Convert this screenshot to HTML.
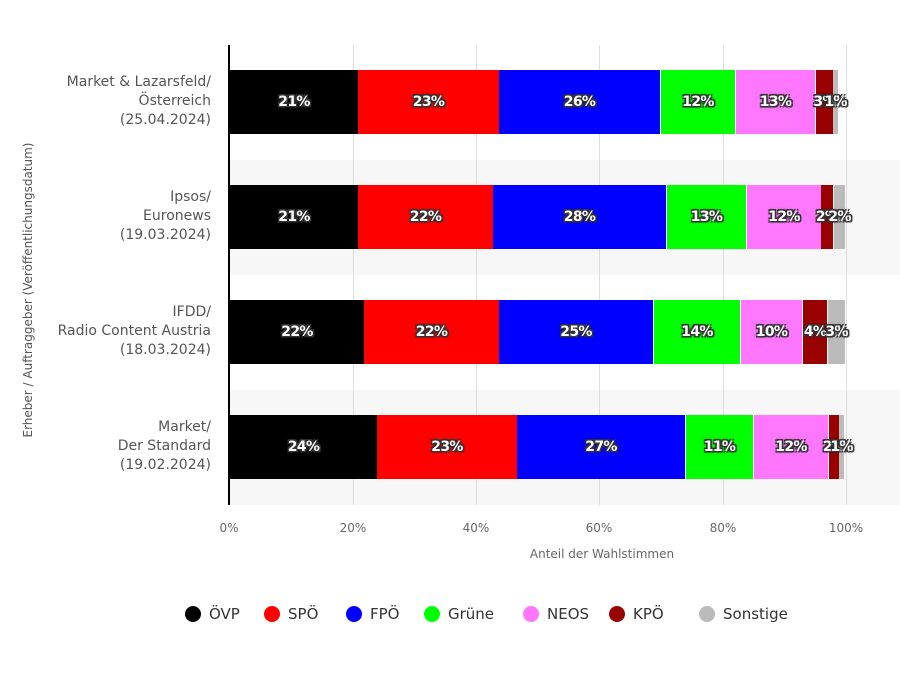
<!DOCTYPE html>
<html><head><meta charset="utf-8"><style>
body{margin:0;width:900px;height:675px;background:#fff;font-family:"DejaVu Sans","Liberation Sans",sans-serif;overflow:hidden;position:relative}
.a{position:absolute}
.band{position:absolute;left:229px;width:671px;height:115px;background:#f7f7f7}
.grid{position:absolute;top:45px;height:460px;width:1px;background:#ddd}
.seg{position:absolute;height:64px;display:flex;align-items:center;justify-content:center;color:#fff;font-weight:bold;font-size:14px;letter-spacing:-0.7px;white-space:nowrap;overflow:visible;text-shadow:-1.5px -1.5px 0 #333,1.5px -1.5px 0 #333,-1.5px 1.5px 0 #333,1.5px 1.5px 0 #333,0 0 3px #000}
.cat{position:absolute;right:689px;text-align:right;font-size:14px;line-height:19px;color:#555}
.tick{position:absolute;top:521px;font-size:12px;color:#666;width:60px;text-align:center}
.lg{position:absolute;top:605px;font-size:15px;color:#333;display:flex;align-items:center;font-weight:500}
.lg i{display:inline-block;width:16px;height:16px;border-radius:50%;margin-right:8px}
</style></head><body>
<div class="band" style="top:160px"></div>
<div class="band" style="top:390px"></div>
<div class="grid" style="left:353px"></div>
<div class="grid" style="left:476px"></div>
<div class="grid" style="left:599px"></div>
<div class="grid" style="left:723px"></div>
<div class="grid" style="left:846px"></div>
<div class="a" style="left:228px;top:45px;width:2px;height:460px;background:#000"></div>

<div class="cat" style="top:73px">Market &amp; Lazarsfeld/<br>Österreich<br>(25.04.2024)</div>
<div class="cat" style="top:188px">Ipsos/<br>Euronews<br>(19.03.2024)</div>
<div class="cat" style="top:303px">IFDD/<br>Radio Content Austria<br>(18.03.2024)</div>
<div class="cat" style="top:418px">Market/<br>Der Standard<br>(19.02.2024)</div>

<div class="a" style="left:28px;top:290px;width:0;height:0"><div style="position:absolute;transform:translate(-50%,-50%) rotate(-90deg);white-space:nowrap;font-size:12px;color:#555">Erheber / Auftraggeber (Veröffentlichungsdatum)</div></div>

<div class="seg" style="top:70px;left:230px;width:128px;background:#000">21%</div>
<div class="seg" style="top:70px;left:358px;width:141px;background:#f00">23%</div>
<div class="seg" style="top:70px;left:499px;width:161px;background:#00f">26%</div>
<div class="seg" style="top:70px;left:661px;width:74px;background:#0f0">12%</div>
<div class="seg" style="top:70px;left:736px;width:79px;background:#f7f">13%</div>
<div class="seg" style="top:70px;left:816px;width:17px;background:#900">3%</div>
<div class="seg" style="top:70px;left:833px;width:5px;background:#bbb">1%</div>

<div class="seg" style="top:185px;left:230px;width:128px;background:#000">21%</div>
<div class="seg" style="top:185px;left:358px;width:135px;background:#f00">22%</div>
<div class="seg" style="top:185px;left:493px;width:173px;background:#00f">28%</div>
<div class="seg" style="top:185px;left:667px;width:79px;background:#0f0">13%</div>
<div class="seg" style="top:185px;left:747px;width:74px;background:#f7f">12%</div>
<div class="seg" style="top:185px;left:821px;width:12px;background:#900">2%</div>
<div class="seg" style="top:185px;left:834px;width:11px;background:#bbb">2%</div>

<div class="seg" style="top:300px;left:230px;width:134px;background:#000">22%</div>
<div class="seg" style="top:300px;left:364px;width:135px;background:#f00">22%</div>
<div class="seg" style="top:300px;left:499px;width:154px;background:#00f">25%</div>
<div class="seg" style="top:300px;left:654px;width:86px;background:#0f0">14%</div>
<div class="seg" style="top:300px;left:741px;width:61px;background:#f7f">10%</div>
<div class="seg" style="top:300px;left:803px;width:24px;background:#900">4%</div>
<div class="seg" style="top:300px;left:828px;width:17px;background:#bbb">3%</div>

<div class="seg" style="top:415px;left:230px;width:147px;background:#000">24%</div>
<div class="seg" style="top:415px;left:377px;width:140px;background:#f00">23%</div>
<div class="seg" style="top:415px;left:517px;width:168px;background:#00f">27%</div>
<div class="seg" style="top:415px;left:686px;width:67px;background:#0f0">11%</div>
<div class="seg" style="top:415px;left:754px;width:74px;background:#f7f">12%</div>
<div class="seg" style="top:415px;left:829px;width:10px;background:#900">2%</div>
<div class="seg" style="top:415px;left:839px;width:5px;background:#bbb">1%</div>

<div class="tick" style="left:199px">0%</div>
<div class="tick" style="left:323px">20%</div>
<div class="tick" style="left:446px">40%</div>
<div class="tick" style="left:569px">60%</div>
<div class="tick" style="left:693px">80%</div>
<div class="tick" style="left:816px">100%</div>
<div class="a" style="left:437px;top:547px;width:330px;text-align:center;font-size:12px;color:#666">Anteil der Wahlstimmen</div>

<div class="lg" style="left:185px"><i style="background:#000"></i>ÖVP</div>
<div class="lg" style="left:264px"><i style="background:#f00"></i>SPÖ</div>
<div class="lg" style="left:346px"><i style="background:#00f"></i>FPÖ</div>
<div class="lg" style="left:424px"><i style="background:#0f0"></i>Grüne</div>
<div class="lg" style="left:523px"><i style="background:#f7f"></i>NEOS</div>
<div class="lg" style="left:609px"><i style="background:#900"></i>KPÖ</div>
<div class="lg" style="left:699px"><i style="background:#bbb"></i>Sonstige</div>
</body></html>
